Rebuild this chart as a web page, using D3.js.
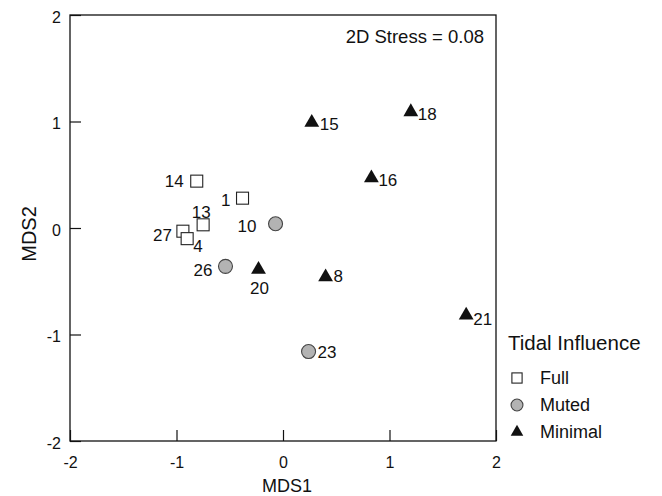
<!DOCTYPE html>
<html>
<head>
<meta charset="utf-8">
<script src="https://cdn.jsdelivr.net/npm/d3@7"></script>
<style>
  body { margin: 0; background: white; }
  text { font-family: "Liberation Sans", Arial, Helvetica, sans-serif; fill: #111; }
</style>
</head>
<body>
<div id="container"></div>
<script>
let w = 662;
let h = 496;

// site ids, MDS coordinates and tidal group
let sites = ["14", "1", "13", "27", "4", "10", "26", "23", "20", "8", "15", "18", "16", "21"];
let mds1 = [-0.81, -0.38, -0.75, -0.94, -0.90, -0.07, -0.54, 0.24, -0.23, 0.40, 0.27, 1.20, 0.83, 1.72];
let mds2 = [0.44, 0.28, 0.03, -0.03, -0.10, 0.04, -0.36, -1.16, -0.39, -0.46, 0.99, 1.09, 0.47, -0.82];
let tidal = ["Full", "Full", "Full", "Full", "Full", "Muted", "Muted", "Muted",
             "Minimal", "Minimal", "Minimal", "Minimal", "Minimal", "Minimal"];

let groups = ["Full", "Muted", "Minimal"];
let ticks = [-2, -1, 0, 1, 2];
let stressText = "2D Stress = 0.08";

// where each site's number sits relative to its marker
let labelPlace = {
  "14": [-13, 6, "end"], "1": [-12, 8, "end"], "13": [-2, -7, "middle"],
  "27": [-11, 10, "end"], "4": [6, 13, "start"], "10": [-19, 8, "end"],
  "26": [-13, 10, "end"], "23": [9, 6, "start"], "20": [1, 24, "middle"],
  "8": [8, 5, "start"], "15": [8, 7, "start"], "18": [7, 8, "start"],
  "16": [7, 8, "start"], "21": [7, 10, "start"]
};

let points = sites.map(function(s, i){
  return {site: s, x: mds1[i], y: mds2[i], group: tidal[i]};
});

let plotLeft = 70, plotTop = 15, plotSize = 426;

let viz = d3.select("#container")
  .append("svg")
    .attr("width", w)
    .attr("height", h)
;

let xScale = d3.scaleLinear().domain([-2, 2]).range([plotLeft, plotLeft + plotSize]);
let yScale = d3.scaleLinear().domain([-2, 2]).range([plotTop + plotSize, plotTop]);

// frame
viz.append("rect")
  .attr("x", plotLeft)
  .attr("y", plotTop)
  .attr("width", plotSize)
  .attr("height", plotSize)
  .attr("fill", "none")
  .attr("stroke", "#111")
  .attr("stroke-width", 1.3)
;

//plain hyphen for negatives, like the original
function tickLabel(d){ return String(d); }

let xAxis = viz.append("g")
  .attr("transform", "translate(0," + (plotTop + plotSize) + ")")
  .call(d3.axisBottom(xScale).tickValues(ticks).tickFormat(tickLabel)
    .tickSizeInner(-11).tickSizeOuter(0).tickPadding(16))
;
let yAxis = viz.append("g")
  .attr("transform", "translate(" + plotLeft + ",0)")
  .call(d3.axisLeft(yScale).tickValues(ticks).tickFormat(tickLabel)
    .tickSizeInner(-11).tickSizeOuter(0).tickPadding(9))
;
[xAxis, yAxis].forEach(function(a){
  a.select(".domain").remove();
  a.selectAll("line").attr("stroke", "#111").attr("stroke-width", 1.2);
  a.selectAll("text")
    .style("font-family", "'Liberation Sans', Arial, sans-serif")
    .style("font-size", "16px")
    .attr("fill", "#111");
});
xAxis.selectAll("text").attr("dy", "0.71em");
yAxis.selectAll("text").attr("dy", "0.45em");

viz.append("text")
  .text("MDS1")
  .attr("x", 287)
  .attr("y", 492)
  .attr("text-anchor", "middle")
  .style("font-size", "18px")
;
viz.append("text")
  .text("MDS2")
  .attr("transform", "translate(36,234) rotate(-90)")
  .attr("text-anchor", "middle")
  .style("font-size", "20px")
;

viz.append("text")
  .text(stressText)
  .attr("x", 484)
  .attr("y", 43)
  .attr("text-anchor", "end")
  .style("font-size", "18.5px")
;

function drawMarker(sel, group, scale){
  if (group === "Full") {
    sel.append("rect")
      .attr("x", -6 * scale).attr("y", -6 * scale)
      .attr("width", 12 * scale).attr("height", 12 * scale)
      .attr("fill", "white").attr("stroke", "#222").attr("stroke-width", 1.1);
  } else if (group === "Muted") {
    sel.append("circle")
      .attr("r", 7 * scale)
      .attr("fill", "#b3b3b3").attr("stroke", "#444").attr("stroke-width", 1.1);
  } else {
    sel.append("path")
      .attr("d", d3.symbol().type(d3.symbolTriangle).size(95 * scale * scale)())
      .attr("fill", "#111");
  }
}

let pointGroups = viz.selectAll(".pt").data(points).enter()
  .append("g")
    .attr("class", "pt")
    .attr("transform", function(d){ return "translate(" + xScale(d.x) + "," + yScale(d.y) + ")"; })
;
pointGroups.each(function(d){ drawMarker(d3.select(this), d.group, 1); });

pointGroups.append("text")
  .text(function(d){ return d.site; })
  .attr("x", function(d){ return labelPlace[d.site][0]; })
  .attr("y", function(d){ return labelPlace[d.site][1]; })
  .attr("text-anchor", function(d){ return labelPlace[d.site][2]; })
  .style("font-size", "17px")
;

// legend
let legend = viz.append("g").attr("transform", "translate(508,350)");
legend.append("text")
  .text("Tidal Influence")
  .style("font-size", "20.5px")
;
let items = legend.selectAll(".item").data(groups).enter()
  .append("g")
    .attr("class", "item")
    .attr("transform", function(d, i){ return "translate(9," + (28 + i * 27) + ")"; })
;
items.each(function(d){ drawMarker(d3.select(this), d, 0.85); });
items.append("text")
  .text(function(d){ return d; })
  .attr("x", 23)
  .attr("y", 6)
  .style("font-size", "18px")
;
</script>
</body>
</html>
